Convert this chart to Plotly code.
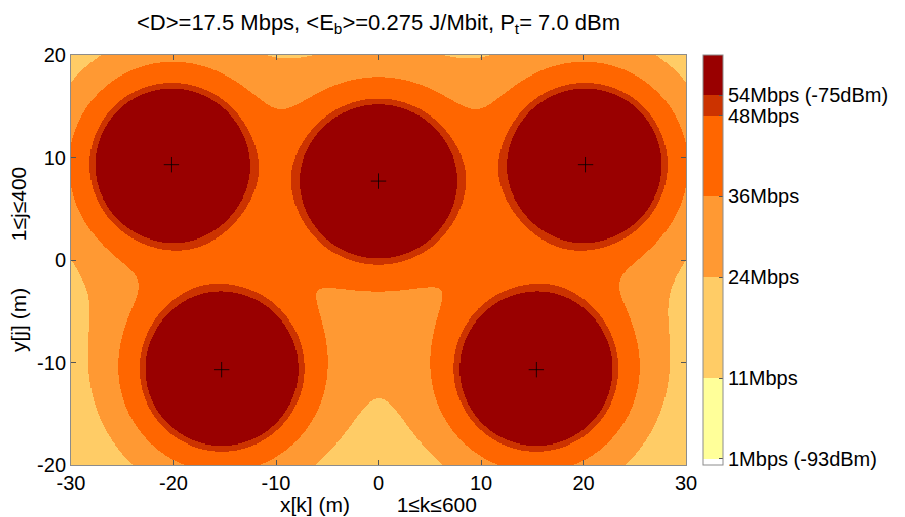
import numpy as np
import plotly.graph_objects as go

# access point positions (m)
ap_x = [-20.2, 0.0, 20.2, -15.3, 15.4]
ap_y = [9.3, 7.7, 9.3, -10.7, -10.7]

# rate classes, their colorbar levels (dBm) and colours
rate_labels = ["1Mbps (-93dBm)", "11Mbps", "24Mbps", "36Mbps", "48Mbps", "54Mbps (-75dBm)"]
level_dbm = [-93, -89, -84, -80, -76, -75]
# single-AP reach (m) of each rate class
level_reach = [30.0, 18.0, 12.5, 9.9, 7.95, 7.4]
band_colors = ["#FFFFFF", "#FFFF99", "#FFCC66", "#FF9933", "#FF6600", "#CC3300", "#990000"]
cbar_min, cbar_max = -93.3, -73.0
path_loss_exp = 4.0

x_ticks = [-30, -20, -10, 0, 10, 20, 30]
x_tick_text = ["-30", "-20", "-10", "0", "10", "20", "30"]
y_ticks = [-20, -10, 0, 10, 20]
y_tick_text = ["-20", "-10", "0", "10", "20"]

# grid 600 x 400 points
nx, ny = 600, 400
x_edges = np.linspace(-30, 30, nx + 1)
y_edges = np.linspace(-20, 20, ny + 1)
xc = 0.5 * (x_edges[:-1] + x_edges[1:])
yc = 0.5 * (y_edges[:-1] + y_edges[1:])
X, Y = np.meshgrid(xc, yc)

S = np.zeros_like(X)
for ax_, ay_ in zip(ap_x, ap_y):
    d = np.sqrt((X - ax_) ** 2 + (Y - ay_) ** 2) + 1e-6
    S += d ** (-path_loss_exp)
deff = S ** (-1.0 / path_loss_exp)

order = np.argsort(level_reach)
xp = [0.0] + [level_reach[i] for i in order] + [80.0]
fp = [cbar_max] + [level_dbm[i] for i in order] + [cbar_min]
Z = np.interp(deff, xp, fp)

def pos(v):
    return (v - cbar_min) / (cbar_max - cbar_min)

bounds = [cbar_min] + level_dbm + [cbar_max]
colorscale = []
for i, c in enumerate(band_colors):
    colorscale.append([pos(bounds[i]), c])
    colorscale.append([pos(bounds[i + 1]), c])

FONT = "Liberation Sans, Arial, sans-serif"

fig = go.Figure()
fig.add_trace(go.Heatmap(
    x=x_edges, y=y_edges, z=Z, zmin=cbar_min, zmax=cbar_max,
    colorscale=colorscale, zsmooth=False, hoverinfo="skip",
    colorbar=dict(
        tickvals=level_dbm, ticktext=rate_labels,
        thickness=20, thicknessmode="pixels",
        len=410, lenmode="pixels",
        x=(703 - 71) / 615, xanchor="left", xref="paper",
        y=0.5, yanchor="middle",
        outlinecolor="#8c8c8c", outlinewidth=1,
        ticks="inside", ticklen=4, tickcolor="#555555",
        tickfont=dict(size=20, color="black", family=FONT),
        ypad=0, xpad=0,
    ),
))
fig.add_trace(go.Scatter(
    x=ap_x, y=ap_y, mode="markers", hoverinfo="skip", showlegend=False,
    marker=dict(symbol="cross-thin", size=11, line=dict(width=1, color="rgba(0,0,0,0.8)"), color="black"),
))

axis_common = dict(
    showline=True, linecolor="#8c8c8c", linewidth=1, mirror="ticks",
    ticks="inside", ticklen=5, tickcolor="#555555",
    showgrid=True, gridcolor="rgba(0,0,0,0.10)", gridwidth=1,
    zeroline=False, layer="above traces", automargin=False,
    tickfont=dict(size=20, color="black", family=FONT),
)
fig.update_xaxes(range=[-30, 30], tickvals=x_ticks, ticktext=x_tick_text, **axis_common)
fig.update_yaxes(range=[-20, 20], tickvals=y_ticks, ticktext=y_tick_text, **axis_common)

sp = "\u00a0" * 8
fig.add_annotation(text="x[k] (m)" + sp + "1\u2264k\u2264600", xref="paper", yref="paper",
                   x=0.5, y=(465 - 504) / 410, xanchor="center", yanchor="middle",
                   showarrow=False, font=dict(size=21, color="black", family=FONT))
fig.add_annotation(text="y[j] (m)" + sp + "1\u2264j\u2264400", xref="paper", yref="paper",
                   x=(18 - 71) / 615, y=0.5, xanchor="center", yanchor="middle", textangle=-90,
                   showarrow=False, font=dict(size=21, color="black", family=FONT))

fig.update_layout(
    width=905, height=517,
    margin=dict(l=63, r=227, t=47, b=60, autoexpand=False),
    paper_bgcolor="white", plot_bgcolor="white",
    font=dict(family=FONT, color="black"),
    title=dict(
        text="&lt;D&gt;=17.5 Mbps, &lt;E<sub>b</sub>&gt;=0.275 J/Mbit, P<sub>t</sub>= 7.0 dBm",
        x=370.5 / 905, xanchor="center", xref="container",
        y=1 - 14 / 517, yanchor="middle", yref="container",
        font=dict(size=22, color="black", family=FONT),
    ),
    showlegend=False,
)

fig.write_html("out.html")
